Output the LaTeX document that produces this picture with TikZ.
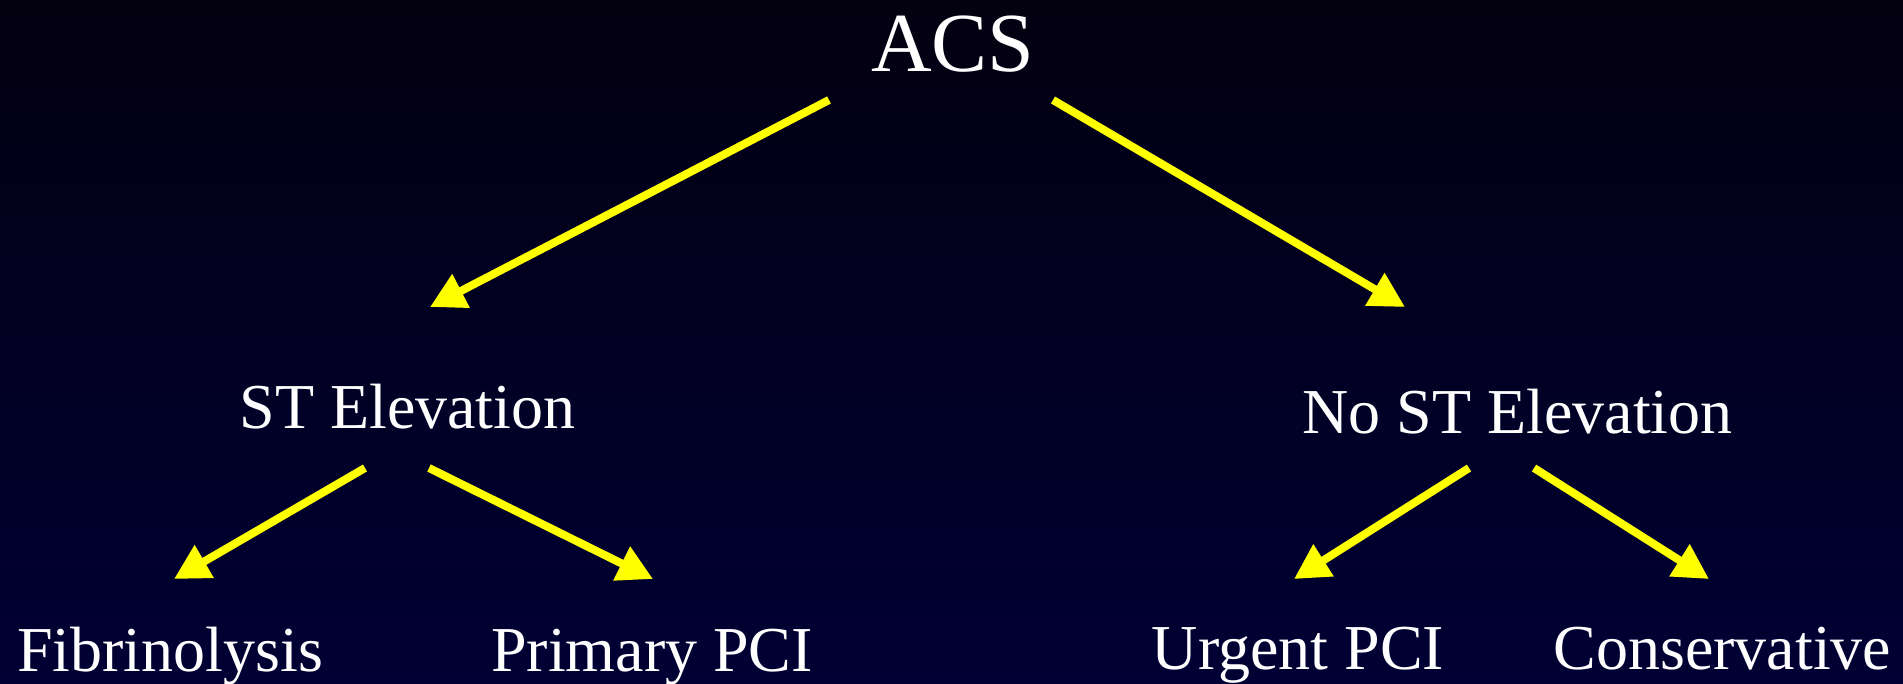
\documentclass[tikz,border=0pt]{standalone}
\usepackage{fontspec}
\setmainfont{Liberation Serif}
\usetikzlibrary{arrows.meta}
\definecolor{bgtop}{RGB}{3,0,16}
\definecolor{bgbottom}{RGB}{0,0,52}
\definecolor{arrowyellow}{RGB}{255,255,0}

\begin{document}
\begin{tikzpicture}[x=1pt,y=-1pt,
    label/.style={text=white, inner sep=0pt, anchor=base, font=\fontsize{64pt}{70pt}\selectfont},
    flow/.style={draw=arrowyellow, line width=8pt, -{Triangle[length=35pt,width=36pt]}}]
            \shade [top color=bgtop, bottom color=bgbottom] (0,0) rectangle (1903,683);
            \useasboundingbox (0,0) rectangle (1903,683);
            \node [label, font=\fontsize{84pt}{90pt}\selectfont] (acs) at (953,71) {ACS};
            \node [label] (st) at (407.5,428) {ST Elevation};
            \node [label] (nost) at (1517.5,433) {No ST Elevation};
            \node [label] (fib) at (170,671) {Fibrinolysis};
            \node [label] (ppci) at (652,671) {Primary PCI};
            \node [label] (upci) at (1298,669) {Urgent PCI};
            \node [label] (cons) at (1722.5,669) {Conservative};
            \draw [flow] ([xshift=-124pt,yshift=-29pt]acs.base) -- ([xshift=22.5pt,yshift=121pt]st.base);
            \draw [flow] ([xshift=100pt,yshift=-29pt]acs.base) -- ([xshift=-112.5pt,yshift=126pt]nost.base);
            \draw [flow] ([xshift=-42.5pt,yshift=-40pt]st.base) -- ([xshift=4pt,yshift=92pt]fib.base);
            \draw [flow] ([xshift=21.5pt,yshift=-40pt]st.base) -- ([xshift=1pt,yshift=92pt]ppci.base);
            \draw [flow] ([xshift=-48.5pt,yshift=-35pt]nost.base) -- ([xshift=-4pt,yshift=90pt]upci.base);
            \draw [flow] ([xshift=16.5pt,yshift=-35pt]nost.base) -- ([xshift=-13.5pt,yshift=90pt]cons.base);
        \end{tikzpicture}
\end{document}
